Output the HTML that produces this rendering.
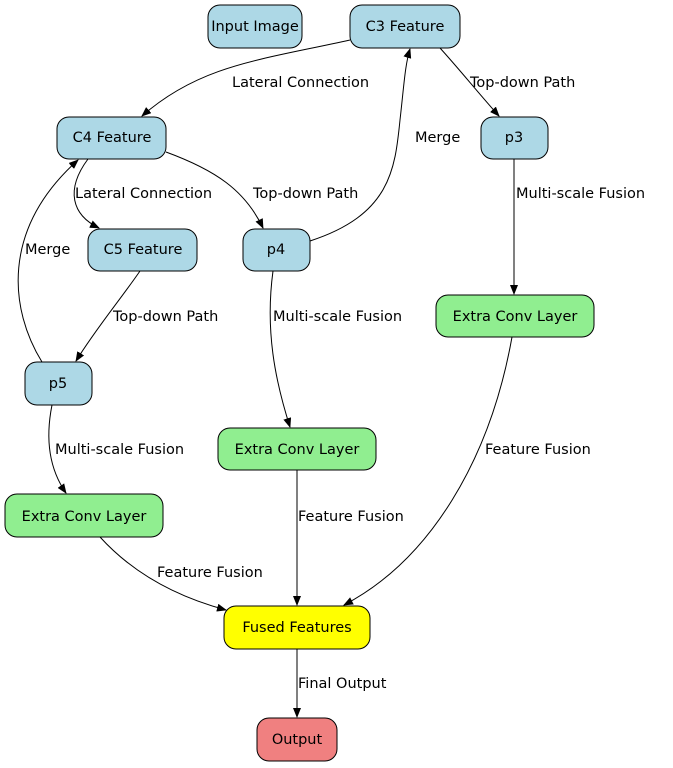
<!DOCTYPE html>
<html><head><meta charset="utf-8"><style>
html,body{margin:0;padding:0;background:#fff;}
svg{display:block;}
text{font-family:"DejaVu Sans","Liberation Sans",sans-serif;font-size:14.5px;fill:#000;}
.n{stroke:#000;stroke-width:1;}
.e{fill:none;stroke:#000;stroke-width:1;}
</style></head><body>
<svg width="673" height="768" viewBox="0 0 673 768" xmlns="http://www.w3.org/2000/svg">
<defs><marker id="a" markerWidth="10" markerHeight="8" refX="9" refY="4" orient="auto" markerUnits="userSpaceOnUse"><path d="M0,0 L10,4 L0,8 z" fill="#000"/></marker></defs>
<!-- edges -->
<path class="e" marker-end="url(#a)" d="M350,40 C260,60 200,65 142,116"/>
<path class="e" marker-end="url(#a)" d="M440,48 C460,70 480,95 499,116"/>
<path class="e" marker-end="url(#a)" d="M88,159 C65,190 72,215 99,228"/>
<path class="e" marker-end="url(#a)" d="M166,152 C215,170 245,190 263,228"/>
<path class="e" marker-end="url(#a)" d="M310,241 C390,215 395,170 400,120 C404,85 405,65 410,49"/>
<path class="e" marker-end="url(#a)" d="M140,271 C120,300 95,330 76,361"/>
<path class="e" marker-end="url(#a)" d="M42,362 C10,310 0,230 78,160"/>
<path class="e" marker-end="url(#a)" d="M514,159 L514,294"/>
<path class="e" marker-end="url(#a)" d="M273,271 C265,330 275,380 290,427"/>
<path class="e" marker-end="url(#a)" d="M52,405 C45,440 50,470 66,493"/>
<path class="e" marker-end="url(#a)" d="M512,337 C490,460 430,560 344,605"/>
<path class="e" marker-end="url(#a)" d="M297,470 L297,605"/>
<path class="e" marker-end="url(#a)" d="M100,537 C130,570 170,595 226,610"/>
<path class="e" marker-end="url(#a)" d="M297,649 L297,717"/>
<!-- edge labels -->
<text x="232" y="87">Lateral Connection</text>
<text x="470" y="87">Top-down Path</text>
<text x="415" y="142">Merge</text>
<text x="75" y="198">Lateral Connection</text>
<text x="253" y="198">Top-down Path</text>
<text x="516" y="198">Multi-scale Fusion</text>
<text x="25" y="254">Merge</text>
<text x="113" y="321">Top-down Path</text>
<text x="273" y="321">Multi-scale Fusion</text>
<text x="55" y="454">Multi-scale Fusion</text>
<text x="485" y="454">Feature Fusion</text>
<text x="298" y="521">Feature Fusion</text>
<text x="157" y="577">Feature Fusion</text>
<text x="298" y="688">Final Output</text>
<!-- nodes -->
<g text-anchor="middle">
<rect class="n" x="208" y="5" width="94" height="43" rx="12" fill="#add8e6"/><text x="255" y="31">Input Image</text>
<rect class="n" x="350" y="5" width="110" height="43" rx="12" fill="#add8e6"/><text x="405" y="31">C3 Feature</text>
<rect class="n" x="57" y="117" width="109" height="42" rx="12" fill="#add8e6"/><text x="112" y="142">C4 Feature</text>
<rect class="n" x="481" y="117" width="67" height="42" rx="12" fill="#add8e6"/><text x="514" y="142">p3</text>
<rect class="n" x="88" y="229" width="109" height="42" rx="12" fill="#add8e6"/><text x="143" y="254">C5 Feature</text>
<rect class="n" x="243" y="229" width="67" height="42" rx="12" fill="#add8e6"/><text x="276" y="254">p4</text>
<rect class="n" x="436" y="295" width="158" height="42" rx="12" fill="#90ee90"/><text x="515" y="321">Extra Conv Layer</text>
<rect class="n" x="25" y="362" width="67" height="43" rx="12" fill="#add8e6"/><text x="58" y="388">p5</text>
<rect class="n" x="218" y="428" width="158" height="42" rx="12" fill="#90ee90"/><text x="297" y="454">Extra Conv Layer</text>
<rect class="n" x="5" y="494" width="158" height="43" rx="12" fill="#90ee90"/><text x="84" y="521">Extra Conv Layer</text>
<rect class="n" x="224" y="606" width="146" height="43" rx="12" fill="#ffff00"/><text x="297" y="632">Fused Features</text>
<rect class="n" x="257" y="718" width="80" height="43" rx="12" fill="#f08080"/><text x="297" y="744">Output</text>
</g>
</svg>
</body></html>
